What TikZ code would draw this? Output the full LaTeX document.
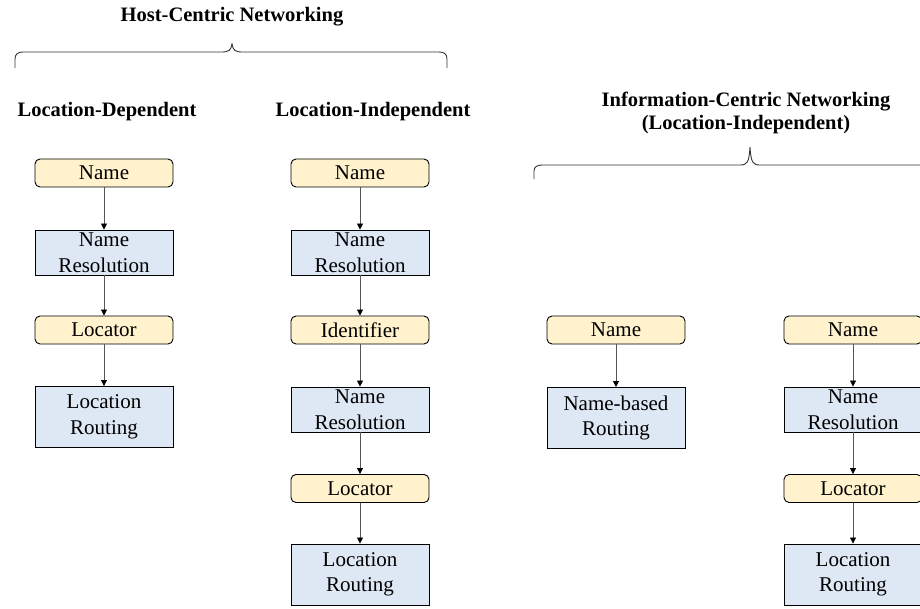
\documentclass[tikz,border=0pt]{standalone}
\usepackage{fontspec}
\setmainfont{Liberation Serif}
\usetikzlibrary{arrows.meta}
\definecolor{yel}{HTML}{FFF2CC}
\definecolor{blu}{HTML}{DEE8F5}
\definecolor{lin}{HTML}{555555}
\tikzset{
  every node/.style={font=\rmfamily\fontsize{21}{25.5}\selectfont},
  ybox/.style={draw=black, line width=0.9pt, fill=yel, rounded corners=5pt, minimum width=138pt, minimum height=28pt, inner sep=0pt, align=center},
  bbox/.style={draw=black, line width=0.9pt, fill=blu, minimum width=138pt, inner sep=0pt, align=center},
  nrbox/.style={bbox, minimum height=45pt, text depth=0pt},
  lrbox/.style={bbox, minimum height=61pt},
  ttl/.style={font=\rmfamily\fontsize{20.5}{23}\selectfont\bfseries, align=center, inner sep=0pt},
  conn/.style={draw=lin, line width=0.8pt, -{Triangle[width=6pt,length=6pt,color=black]}},
  brace/.style={draw=black!80, line width=0.9pt}
}
\begin{document}
\begin{tikzpicture}[x=1pt,y=-1pt]
\useasboundingbox (0,0) rectangle (920,608);
\clip (0,0) rectangle (920,608);
% titles
\node[ttl] (hcn) at (232,17) {Host-Centric Networking};
\node[ttl] (ld) at (107,112) {Location-Dependent};
\node[ttl] (li) at (373,112) {Location-Independent};
\node[ttl] (icn) at (746,113) {Information-Centric Networking\\(Location-Independent)};
% braces
\draw[brace] (15,68) -- (15,59) .. controls (15,54) and (18,52) .. (23,52) -- (222,52) .. controls (229,52) and (231,50) .. (232,44) .. controls (233,50) and (235,52) .. (242,52) -- (439,52) .. controls (444,52) and (447,54) .. (447,59) -- (447,68);
\draw[brace] (534,179) -- (534,171) .. controls (534,167) and (537,165) .. (542,165) -- (740,165) .. controls (747,165) and (749,163) .. (750,147) .. controls (751,163) and (753,165) .. (760,165) -- (940,165);
% column 1
\node[ybox] (n1) at (104,173) {Name};
\node[nrbox] (r1) at (104,252.5) {Name\\Resolution};
\node[ybox] (l1) at (104,330) {Locator};
\node[lrbox] (g1) at (104,417) {Location\\Routing};
\draw[conn] (n1) -- (r1);
\draw[conn] (r1) -- (l1);
\draw[conn] (l1) -- (g1);
% column 2
\node[ybox] (n2) at (360,173) {Name};
\node[nrbox] (r2) at (360,252.5) {Name\\Resolution};
\node[ybox] (i2) at (360,330) {Identifier};
\node[nrbox] (s2) at (360,409.5) {Name\\Resolution};
\node[ybox] (l2) at (360,488.5) {Locator};
\node[lrbox] (g2) at (360,574.5) {Location\\Routing};
\draw[conn] (n2) -- (r2);
\draw[conn] (r2) -- (i2);
\draw[conn] (i2) -- (s2);
\draw[conn] (s2) -- (l2);
\draw[conn] (l2) -- (g2);
% column 3
\node[ybox] (n3) at (616,330) {Name};
\node[lrbox] (b3) at (616,418) {Name-based\\Routing};
\draw[conn] (n3) -- (b3);
% column 4
\node[ybox] (n4) at (853,330) {Name};
\node[nrbox] (r4) at (853,409.5) {Name\\Resolution};
\node[ybox] (l4) at (853,488.5) {Locator};
\node[lrbox] (g4) at (853,574.5) {Location\\Routing};
\draw[conn] (n4) -- (r4);
\draw[conn] (r4) -- (l4);
\draw[conn] (l4) -- (g4);
\end{tikzpicture}
\end{document}
